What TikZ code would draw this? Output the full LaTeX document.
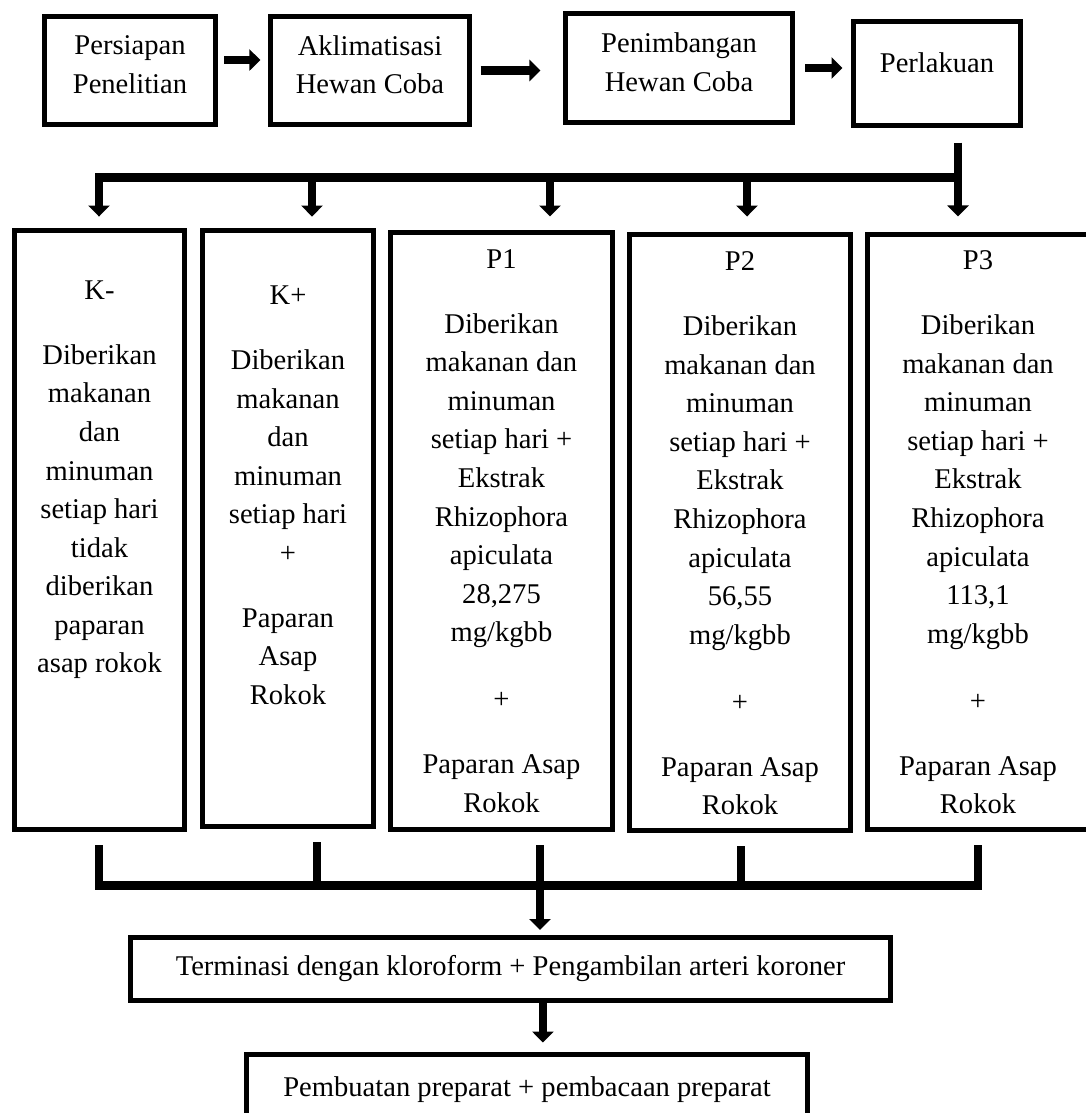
\documentclass[tikz,border=0pt]{standalone}
\usepackage{fontspec}
\setmainfont{Liberation Serif}
\usetikzlibrary{arrows.meta,positioning}

\begin{document}
\begin{tikzpicture}
  [x=0.42pt,y=-0.42pt,font=\fontsize{12pt}{16.2pt}\selectfont,
   box/.style={draw,line width=2.1pt,inner sep=0pt,align=center},
   txt/.style={inner sep=0pt,align=center,anchor=north},
   link/.style={line width=3.4pt},
   bigarrow/.style={line width=3.4pt,-{Triangle[width=8.8pt,length=4.6pt]}}]
  \useasboundingbox (0,0) rectangle (1086,1113);

  % top row
  \node[box,minimum width=71.8pt,minimum height=45.4pt,text depth=5pt] (persiapan) at (130,70.5) {Persiapan\\Penelitian};
  \node[box,minimum width=83.6pt,minimum height=45.4pt,text depth=5pt] (aklimatisasi) at (370,70.5) {Aklimatisasi\\Hewan Coba};
  \node[box,minimum width=95.3pt,minimum height=45.8pt,text depth=5pt] (penimbangan) at (679,68) {Penimbangan\\Hewan Coba};
  \node[box,minimum width=70.1pt,minimum height=43.7pt,text depth=8.8pt] (perlakuan) at (937,73.5) {Perlakuan};

  \draw[bigarrow,shorten <=2.7pt,shorten >=3.2pt] ([yshift=4.4pt]persiapan.east) -- ([yshift=4.4pt]aklimatisasi.west);
  \draw[bigarrow,shorten <=3.6pt,shorten >=9.5pt] (aklimatisasi.east) -- (aklimatisasi.east -| penimbangan.west);
  \draw[bigarrow,shorten <=4.4pt,shorten >=3.6pt] (penimbangan.east) -- (penimbangan.east -| perlakuan.west);

  % groups
  \node[box,minimum width=71.4pt,minimum height=251.6pt] (km) at (99.5,530) {};
  \node[box,minimum width=71.8pt,minimum height=250.3pt] (kp) at (288,528.5) {};
  \node[box,minimum width=93.2pt,minimum height=250.7pt] (p1) at (501.5,531) {};
  \node[box,minimum width=92.8pt,minimum height=250.3pt] (p2) at (740,532.5) {};
  \node[box,minimum width=92.8pt,minimum height=250pt] (p3) at (978,532) {};

  \node[txt,below=22pt of km.north] (kmtext) {K-\\[11pt]Diberikan\\makanan\\dan\\minuman\\setiap hari\\tidak\\diberikan\\paparan\\asap rokok};
  \node[txt,below=24.2pt of kp.north] (kptext) {K+\\[11pt]Diberikan\\makanan\\dan\\minuman\\setiap hari\\+\\[11pt]Paparan\\Asap\\Rokok};
  \node[txt,below=8pt of p1.north] (p1text) {P1\\[11pt]Diberikan\\makanan dan\\minuman\\setiap hari +\\Ekstrak\\Rhizophora\\apiculata\\28,275\\mg/kgbb\\[12pt]+\\[11pt]Paparan Asap\\Rokok};
  \node[txt,below=8.2pt of p2.north] (p2text) {P2\\[11pt]Diberikan\\makanan dan\\minuman\\setiap hari +\\Ekstrak\\Rhizophora\\apiculata\\56,55\\mg/kgbb\\[12pt]+\\[11pt]Paparan Asap\\Rokok};
  \node[txt,below=7.8pt of p3.north] (p3text) {P3\\[11pt]Diberikan\\makanan dan\\minuman\\setiap hari +\\Ekstrak\\Rhizophora\\apiculata\\113,1\\mg/kgbb\\[12pt]+\\[11pt]Paparan Asap\\Rokok};

  % split from Perlakuan
  \foreach \x [count=\i] in {99,312,550,747,958}
    \coordinate (split\i) at (\x,177.5);
  \draw[link,line cap=rect] (split1) -- (split5);
  \draw[link,shorten <=6.1pt] (perlakuan.south -| split5) -- (split5);
  \foreach \from/\to/\gap in {split1/km/4.8pt, split2/kp/4.8pt, split3/p1/5.7pt, split4/p2/6.5pt, split5/p3/6.5pt}
    \draw[bigarrow,shorten >=\gap] (\from) -- (\from |- \to.north);

  % bottom
  \node[box,minimum width=319.2pt,minimum height=26.5pt] (terminasi) at (510.5,969) {Terminasi dengan kloroform + Pengambilan arteri koroner};
  \node[box,minimum width=235.6pt,minimum height=29.8pt] (pembuatan) at (527,1090) {Pembuatan preparat + pembacaan preparat};

  \foreach \x [count=\i] in {99,317,540,741,978}
    \coordinate (join\i) at (\x,885.5);
  \draw[link,line cap=rect] (join1) -- (join5);
  \foreach \from/\to in {km/join1, kp/join2, p1/join3, p2/join4, p3/join5}
    \draw[link,shorten <=5.5pt] (\to |- \from.south) -- (\to);
  \draw[bigarrow,shorten >=2.1pt] (join3) -- (join3 |- terminasi.north);
  \coordinate (drop) at ([xshift=13.6pt]terminasi.south);
  \draw[bigarrow,shorten >=4pt] (drop) -- (drop |- pembuatan.north);
\end{tikzpicture}
\end{document}
